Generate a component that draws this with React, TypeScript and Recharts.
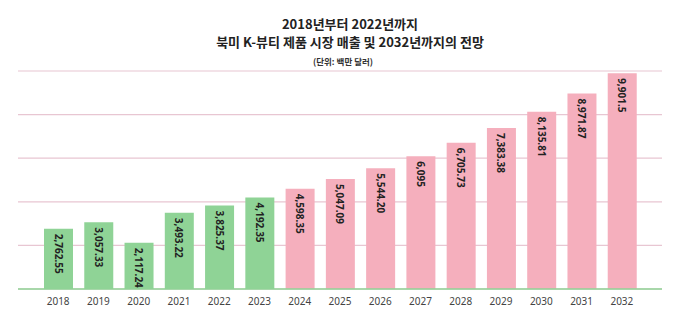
import { Bar, BarChart, CartesianGrid, Cell, LabelList, XAxis, YAxis } from "recharts";

const years = ["2018", "2019", "2020", "2021", "2022", "2023", "2024", "2025", "2026", "2027", "2028", "2029", "2030", "2031", "2032"];
const sales = [2762.55, 3057.33, 2117.24, 3493.22, 3825.37, 4192.35, 4598.35, 5047.09, 5544.2, 6095, 6705.73, 7383.38, 8135.81, 8971.87, 9901.5];
const salesText = ["2,762.55", "3,057.33", "2,117.24", "3,493.22", "3,825.37", "4,192.35", "4,598.35", "5,047.09", "5,544.20", "6,095", "6,705.73", "7,383.38", "8,135.81", "8,971.87", "9,901.5"];
const lastActual = "2023";
const yTicks = [0, 2000, 4000, 6000, 8000, 10000];

const GREEN = "#8fd396";
const PINK = "#f5afbd";
const font = "'Noto Sans', 'Noto Sans CJK KR', sans-serif";

const data = years.map((y, i) => ({ year: y, value: sales[i], text: salesText[i] }));

function InLabel({ x, y, width, index }: any) {
  const cx = x + width / 2;
  const top = y + 5;
  return (
    <text
      transform={`translate(${cx}, ${top}) rotate(90)`}
      textAnchor="start"
      dominantBaseline="central"
      fontSize={10}
      fontWeight={700}
      fill="#222"
      fontFamily={font}
    >
      {salesText[index]}
    </text>
  );
}

export default function App() {
  return (
    <div style={{ position: "fixed", left: 0, top: 0, width: 700, height: 332, background: "#fff", fontFamily: "'Noto Sans CJK KR', sans-serif" }}>
      <div style={{ position: "absolute", top: 15, left: 0, width: 700, textAlign: "center", fontSize: 13, fontWeight: 700, lineHeight: "18px", color: "#222" }}>
        2018년부터 2022년까지
        <br />
        북미 K-뷰티 제품 시장 매출 및 2032년까지의 전망
      </div>
      <div style={{ position: "absolute", top: 55, left: 0, width: 686, textAlign: "center", fontSize: 8.5, fontWeight: 700, color: "#333" }}>
        (단위: 백만 달러)
      </div>
      <BarChart width={700} height={332} data={data} margin={{ top: 71, right: 38, left: 18, bottom: 13 }}>
        <CartesianGrid horizontal vertical={false} stroke="#e8c6d2" strokeWidth={1.2} />
        <YAxis hide domain={[0, 10000]} ticks={yTicks} />
        <XAxis
          dataKey="year"
          height={30}
          padding={{ left: 20, right: 20 }}
          axisLine={{ stroke: GREEN, strokeWidth: 1.5 }}
          tickLine={false}
          tickSize={6}
          tickMargin={3}
          tick={{ fontSize: 10, fill: "#444", fontFamily: font }}
          interval={0}
        />
        <Bar dataKey="value" barSize={29} isAnimationActive={false}>
          {data.map((d) => (
            <Cell key={d.year} fill={Number(d.year) <= Number(lastActual) ? GREEN : PINK} />
          ))}
          <LabelList dataKey="text" content={<InLabel />} />
        </Bar>
      </BarChart>
    </div>
  );
}
